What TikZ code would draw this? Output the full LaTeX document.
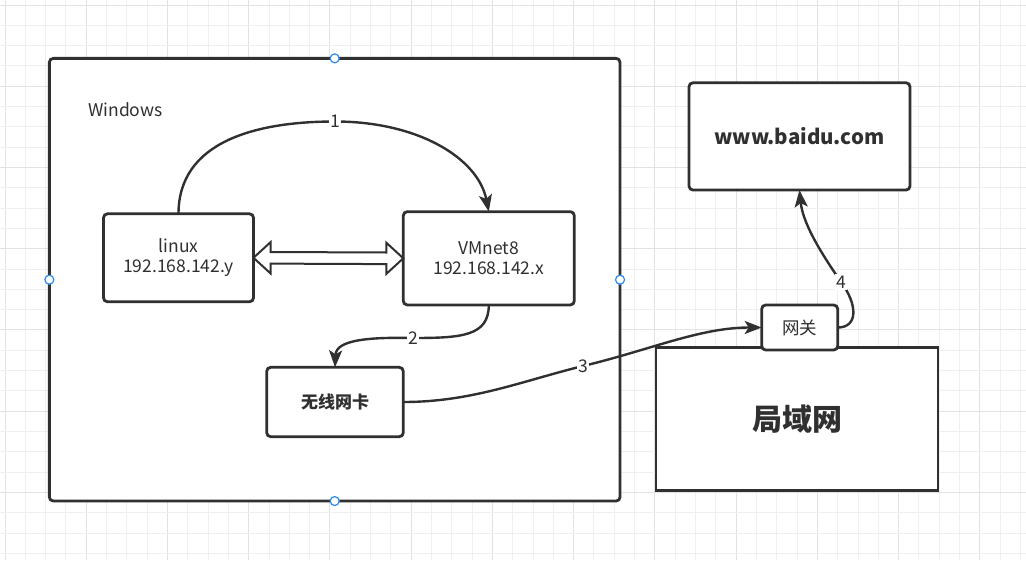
\documentclass[tikz,border=0pt]{standalone}
\usepackage{fontspec}
\setmainfont{Noto Sans CJK SC}
\usetikzlibrary{arrows.meta}
\definecolor{ink}{HTML}{303030}
\definecolor{gridminor}{HTML}{EFEFEF}
\definecolor{gridmajor}{HTML}{E2E2E2}
\definecolor{handleblue}{HTML}{2A8BF2}
\tikzset{
  box/.style={draw=ink,fill=white,line width=2.8pt,rounded corners=4pt,inner sep=0pt,outer sep=0pt,
    text=ink,font=\fontsize{17.5}{20.5}\selectfont,align=center},
  sqbox/.style={box,rounded corners=0pt},
  conn/.style={draw=ink,line width=2.4pt,-{Stealth[length=17pt,width=13pt,inset=4pt]}},
  lbl/.style={fill=white,inner sep=1.5pt,text=ink,font=\fontsize{17.5}{20}\selectfont},
  dbl/.style={draw=ink,fill=white,line width=2pt,line join=miter},
  handle/.style={circle,draw=handleblue,fill=white,line width=1.2pt,minimum size=9pt,inner sep=0pt},
  plain/.style={text=ink,font=\fontsize{17.5}{20.5}\selectfont,inner sep=0pt}
}
\begin{document}
\begin{tikzpicture}[x=1pt,y=-1pt]
\useasboundingbox (0,0) rectangle (1026,560);
\fill[white] (0,0) rectangle (1026,560);
% grid
\foreach \k in {0,...,50}{
  \pgfmathsetmacro{\xx}{5+\k*20.31}
  \pgfmathtruncatemacro{\m}{mod(\k,4)}
  \ifnum\m=0 \draw[gridmajor,line width=1pt] (\xx,0) -- (\xx,560);
  \else \draw[gridminor,line width=1pt] (\xx,0) -- (\xx,560); \fi
}
\foreach \k in {0,...,27}{
  \pgfmathsetmacro{\yy}{5+\k*20.31}
  \pgfmathtruncatemacro{\m}{mod(\k,4)}
  \ifnum\m=0 \draw[gridmajor,line width=1pt] (0,\yy) -- (1026,\yy);
  \else \draw[gridminor,line width=1pt] (0,\yy) -- (1026,\yy); \fi
}
% Windows container
\node[box,minimum width=570.7pt,minimum height=442.7pt] (win) at (334.7,279.7) {};
\node[plain,anchor=west] (wlabel) at (88,110) {Windows};
% boxes
\node[box,minimum width=150pt,minimum height=88pt] (linux) at (178.5,257.8) {linux\\192.168.142.y};
\node[box,minimum width=171pt,minimum height=93.3pt] (vm) at (488.8,258.3) {VMnet8\\192.168.142.x};
\node[box,minimum width=136.6pt,minimum height=69.4pt,font=\fontsize{17}{20}\selectfont\bfseries] (nic) at (335,402) {无线网卡};
\node[sqbox,minimum width=282pt,minimum height=143pt,font=\fontsize{30}{34}\selectfont\bfseries] (lan) at (797,419.2) {局域网};
\node[box,minimum width=76pt,minimum height=45pt] (gw) at (799.7,327.5) {网关};
\node[box,minimum width=221pt,minimum height=107.3pt,font=\fontsize{20.5}{24}\selectfont\bfseries] (baidu) at (799.5,136.4) {www.baidu.com};
% double hollow arrow
\draw[dbl] (linux.east) -- ([shift={(17,-15.6)}]linux.east) -- ([shift={(17,-5.8)}]linux.east)
  -- ([shift={(-17,-5.8)}]vm.west) -- ([shift={(-17,-15.6)}]vm.west) -- (vm.west)
  -- ([shift={(-17,15.6)}]vm.west) -- ([shift={(-17,5.8)}]vm.west)
  -- ([shift={(17,5.8)}]linux.east) -- ([shift={(17,15.6)}]linux.east) -- cycle;
% connector 1
\draw[conn] (linux.north) .. controls (178.5,142) and (255,121.5) .. (335,121.5) node[lbl] (l1) {1}
  .. controls (418,121.5) and (478,158) .. (vm.north);
% connector 2
\draw[conn] (vm.south) .. controls (488.8,336) and (462,338) .. (413,338) node[lbl] (l2) {2}
  .. controls (368,337) and (336,340) .. (nic.north);
% connector 3
\draw[conn] (nic.east) .. controls (472,402) and (522,381) .. (583,366) node[lbl] (l3) {3}
  .. controls (650,350) and (700,327.5) .. (gw.west);
% connector 4
\draw[conn] (gw.east) .. controls (858,327.5) and (858,305) .. (841,282) node[lbl] (l4) {4}
  .. controls (826,260) and (803,226) .. (baidu.south);
% selection handles
\node[handle] (h1) at (win.north) {};
\node[handle] (h2) at (win.west) {};
\node[handle] (h3) at (win.east) {};
\node[handle] (h4) at (win.south) {};
\end{tikzpicture}
\end{document}
